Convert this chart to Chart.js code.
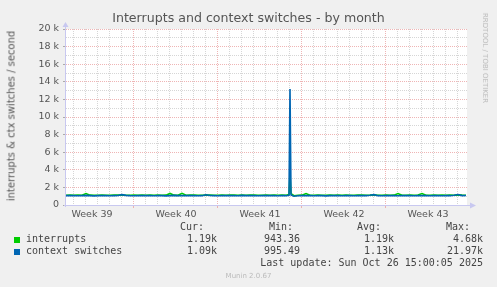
<!DOCTYPE html>
<html>
<head>
<meta charset="utf-8">
<script src="https://cdn.jsdelivr.net/npm/chart.js@4/dist/chart.umd.min.js"></script>
<style>
  body { margin: 0; background: #f0f0f0; }
  #wrap { position: relative; width: 497px; height: 287px; overflow: hidden; font-family: "DejaVu Sans", sans-serif; }
  #chart { position: absolute; left: 0; top: 0; }
  .abs { position: absolute; white-space: nowrap; }
  #title { left: 0; width: 497px; top: 10px; text-align: center; font-size: 12.6px; color: #555; }
  #ytitle { left: 11px; top: 116px; font-size: 10px; color: #555; transform: translate(-50%, -50%) rotate(-90deg); }
  #mark { left: 485px; top: 58px; font-size: 7px; color: #bbb; transform: translate(-50%, -50%) rotate(90deg); }
  .mono { font-family: "DejaVu Sans Mono", monospace; font-size: 10px; color: #444; }
  .sw { position: absolute; width: 6px; height: 6px; }
  #munin { left: 0; width: 497px; text-align: center; top: 272px; font-size: 7px; color: #bbb; }
</style>
</head>
<body>
<div id="wrap">
  <canvas id="chart" width="497" height="287"></canvas>
  <div id="title" class="abs">Interrupts and context switches - by month</div>
  <div id="ytitle" class="abs">interrupts &amp; ctx switches / second</div>
  <div id="mark" class="abs">RRDTOOL / TOBI OETIKER</div>
  <div id="legend"></div>
  <div id="munin" class="abs">Munin 2.0.67</div>
</div>
<script>
// time axis in hours since the start of the graph
const hours = [0, 8, 16, 24, 32, 40, 48, 56, 64, 72, 80, 88, 96, 104, 112, 120, 128, 136, 144, 152,
  160, 168, 176, 184, 192, 200, 208, 216, 224, 232, 240, 248, 256, 264, 272, 280, 288, 296, 304, 312,
  320, 328, 336, 344, 352, 360, 368, 376, 384, 392, 400, 408, 416, 424, 432, 440, 446, 448, 450,
  456, 464, 472, 480, 488, 496, 504, 512, 520, 528, 536, 544, 552, 560, 568, 576, 584, 592, 600, 608,
  616, 624, 632, 640, 648, 656, 664, 672, 680, 688, 696, 704, 712, 720, 728, 736, 744, 752, 760, 768,
  776, 784, 792, 800];

const interrupts = [1110, 1120, 1100, 1130, 1110, 1300, 1120, 1100, 1110, 1120,
  1100, 1110, 1130, 1120, 1140, 1110, 1100, 1120, 1110, 1130,
  1110, 1120, 1100, 1130, 1110, 1120, 1310, 1120, 1100, 1320,
  1110, 1130, 1120, 1100, 1110, 1120, 1130, 1110, 1100, 1120,
  1110, 1120, 1130, 1100, 1120, 1110, 1130, 1120, 1100, 1110,
  1120, 1110, 1130, 1100, 1120, 1110, 1200, 3440, 1300,
  1050, 1100, 1120, 1300, 1110, 1100, 1120, 1110, 1100, 1120,
  1110, 1130, 1100, 1120, 1110, 1100, 1120, 1130, 1110, 1120,
  1150, 1110, 1100, 1120, 1110, 1120, 1300, 1110, 1100, 1120,
  1110, 1130, 1300, 1110, 1100, 1120, 1110, 1130, 1100, 1120,
  1110, 1150, 1120, 1110];

const contextSwitches = [1070, 1060, 1080, 1050, 1070, 1090, 1060, 1040, 1070, 1080,
  1060, 1050, 1070, 1080, 1180, 1090, 1060, 1050, 1070, 1080,
  1060, 1070, 1050, 1080, 1060, 1040, 1070, 1090, 1060, 1080,
  1070, 1060, 1080, 1050, 1060, 1170, 1080, 1060, 1050, 1070,
  1080, 1060, 1070, 1050, 1090, 1060, 1070, 1080, 1050, 1060,
  1070, 1060, 1080, 1050, 1070, 1060, 1100, 13180, 1150,
  1000, 1050, 1070, 1060, 1080, 1050, 1060, 1070, 1040, 1060,
  1070, 1080, 1050, 1060, 1070, 1050, 1060, 1080, 1070, 1100,
  1180, 1060, 1050, 1070, 1080, 1060, 1050, 1070, 1060, 1080,
  1050, 1070, 1060, 1080, 1050, 1060, 1070, 1050, 1080, 1060,
  1100, 1190, 1070, 1080];

// x grid: day lines, week boundaries, week label positions
const dayLines = [14, 38, 62, 86, 110, 134, 158, 182, 206, 230, 254, 278, 302, 326, 350, 374, 398,
  422, 446, 470, 494, 518, 542, 566, 590, 614, 638, 662, 686, 710, 734, 758, 782];
const weekLines = [134, 302, 470, 638];
const weekLabelPos = [52, 220, 388, 556, 724];
const weekLabels = ["Week 39", "Week 40", "Week 41", "Week 42", "Week 43"];
const yTicks = [0, 1000, 2000, 3000, 4000, 5000, 6000, 7000, 8000, 9000, 10000,
  11000, 12000, 13000, 14000, 15000, 16000, 17000, 18000, 19000, 20000];

const legendRows = [
  { name: "interrupts", color: "#00cc00", cur: "1.19k", min: "943.36", avg: "1.19k", max: "4.68k" },
  { name: "context switches", color: "#0066b3", cur: "1.09k", min: "995.49", avg: "1.13k", max: "21.97k" }
];

const RED = "rgba(232,150,150,0.7)";
const GRAY = "rgba(200,200,200,0.75)";
const AXIS = "#c8c8f0";

const plotBg = {
  id: "plotBg",
  beforeDraw(chart) {
    const { ctx, chartArea: a } = chart;
    ctx.save();
    ctx.fillStyle = "#ffffff";
    ctx.fillRect(a.left, a.top, a.right - a.left, a.bottom - a.top);
    ctx.restore();
  }
};

const axisArrows = {
  id: "axisArrows",
  afterDatasetsDraw(chart) {
    const { ctx, chartArea: a } = chart;
    ctx.save();
    ctx.strokeStyle = AXIS;
    ctx.fillStyle = AXIS;
    ctx.lineWidth = 1;
    ctx.beginPath();
    ctx.moveTo(a.left - 2, a.bottom + 0.5);
    ctx.lineTo(a.right + 3, a.bottom + 0.5);
    ctx.moveTo(a.left - 0.5, a.bottom + 2);
    ctx.lineTo(a.left - 0.5, a.top - 3);
    ctx.stroke();
    ctx.beginPath();
    ctx.moveTo(a.right + 9, a.bottom + 0.5);
    ctx.lineTo(a.right + 3, a.bottom - 2.5);
    ctx.lineTo(a.right + 3, a.bottom + 3.5);
    ctx.fill();
    ctx.beginPath();
    ctx.moveTo(a.left - 0.5, a.top - 7);
    ctx.lineTo(a.left - 3.5, a.top - 2);
    ctx.lineTo(a.left + 2.5, a.top - 2);
    ctx.fill();
    ctx.restore();
  }
};

function kLabel(v) {
  return v === 0 ? "0" : (v / 1000) + " k";
}

new Chart(document.getElementById("chart"), {
  type: "line",
  data: {
    datasets: [
      {
        label: "context switches",
        data: hours.map((h, i) => ({ x: h, y: contextSwitches[i] })),
        borderColor: "#0066b3",
        borderWidth: 1.6,
        order: 0
      },
      {
        label: "interrupts",
        data: hours.map((h, i) => ({ x: h, y: interrupts[i] })),
        borderColor: "#00cc00",
        borderWidth: 1.6,
        order: 1
      }
    ]
  },
  options: {
    responsive: false,
    animation: false,
    layout: { padding: { left: 0, right: 30, top: 29, bottom: 0 } },
    elements: { point: { radius: 0 }, line: { tension: 0 } },
    plugins: { legend: { display: false }, tooltip: { enabled: false } },
    scales: {
      x: {
        type: "linear",
        min: 0,
        max: 802,
        afterBuildTicks: (s) => {
          s.ticks = [...dayLines, ...weekLabelPos].map((v) => ({ value: v }));
        },
        afterFit: (s) => { s.height = 82; },
        border: { display: false, dash: [1, 1] },
        grid: {
          color: (c) => {
            const v = c.tick && c.tick.value;
            if (weekLabelPos.includes(v)) return "rgba(0,0,0,0)";
            return weekLines.includes(v) ? RED : GRAY;
          },
          tickColor: (c) => {
            const v = c.tick && c.tick.value;
            return weekLines.includes(v) ? RED : "rgba(0,0,0,0)";
          },
          tickLength: 3
        },
        ticks: {
          autoSkip: false,
          maxRotation: 0,
          padding: 1,
          color: "#555",
          font: { family: "DejaVu Sans", size: 9.5 },
          callback: (v) => {
            const i = weekLabelPos.indexOf(v);
            return i >= 0 ? weekLabels[i] : "";
          }
        }
      },
      y: {
        type: "linear",
        min: 0,
        max: 20000,
        afterBuildTicks: (s) => {
          s.ticks = yTicks.map((v) => ({ value: v }));
        },
        afterFit: (s) => { s.width = 66; },
        border: { display: false, dash: [1, 1] },
        grid: {
          color: (c) => (c.tick && c.tick.value % 2000 === 0 ? RED : GRAY),
          tickColor: (c) => (c.tick && c.tick.value % 2000 === 0 ? "#aaa" : "rgba(0,0,0,0)"),
          tickLength: 3
        },
        ticks: {
          autoSkip: false,
          padding: 4,
          color: "#555",
          font: { family: "DejaVu Sans", size: 9.5 },
          callback: (v) => (v % 2000 === 0 ? kLabel(v) : "")
        }
      }
    }
  },
  plugins: [plotBg, axisArrows]
});

// legend table below the plot
const legend = document.getElementById("legend");
function put(text, right, top) {
  const d = document.createElement("div");
  d.className = "abs mono";
  d.textContent = text;
  d.style.right = (497 - right) + "px";
  d.style.top = top + "px";
  legend.appendChild(d);
}
put("Cur:", 204, 221);
put("Min:", 293, 221);
put("Avg:", 381, 221);
put("Max:", 470, 221);
legendRows.forEach((r, i) => {
  const top = 233 + i * 12;
  const sw = document.createElement("div");
  sw.className = "sw";
  sw.style.background = r.color;
  sw.style.left = "14px";
  sw.style.top = (top + 4) + "px";
  legend.appendChild(sw);
  const n = document.createElement("div");
  n.className = "abs mono";
  n.textContent = r.name;
  n.style.left = "26px";
  n.style.top = top + "px";
  legend.appendChild(n);
  put(r.cur, 217, top);
  put(r.min, 300, top);
  put(r.avg, 394, top);
  put(r.max, 483, top);
});
put("Last update: Sun Oct 26 15:00:05 2025", 483, 257);
</script>
</body>
</html>
